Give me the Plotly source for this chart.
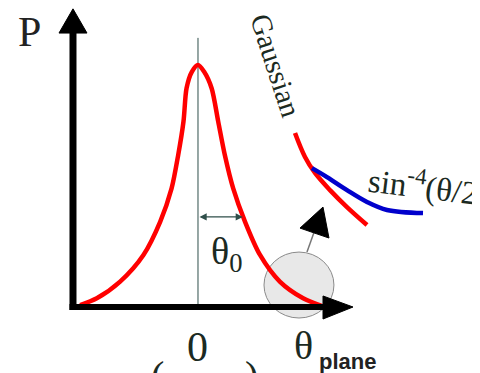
import plotly.graph_objects as go

# ---- data (theta in units of theta0, P normalised to peak) ----
theta_main = [-2.68, -2.30, -1.77, -1.24, -0.86, -0.60, -0.45, -0.33, -0.26, -0.14, 0.0,
              0.14, 0.31, 0.46, 0.61, 0.80, 1.07, 1.41, 1.86, 2.39, 2.81]
p_main = [0.008, 0.036, 0.105, 0.215, 0.352, 0.49, 0.628, 0.766, 0.904, 0.972, 1.0,
          0.972, 0.904, 0.766, 0.628, 0.49, 0.352, 0.215, 0.105, 0.036, 0.005]

theta_gauss = [2.205, 2.432, 2.659, 3.0, 3.386, 3.841]
p_gauss = [0.719, 0.620, 0.554, 0.483, 0.413, 0.339]

theta_sin = [2.59, 2.932, 3.386, 3.841, 4.295, 5.114]
p_sin = [0.574, 0.537, 0.483, 0.434, 0.401, 0.388]

x_range = [-4.318, 6.591]
y_range = [-0.3058, 1.2355]

serif = "Liberation Serif, Times New Roman, serif"
ink = "#1b2a22"

fig = go.Figure()

fig.add_trace(go.Scatter(x=theta_main, y=p_main, mode="lines",
                         line=dict(color="#ff0000", width=4.5, shape="spline", smoothing=0.8),
                         hoverinfo="skip"))
fig.add_trace(go.Scatter(x=theta_gauss, y=p_gauss, mode="lines",
                         line=dict(color="#ff0000", width=4.5, shape="spline"),
                         hoverinfo="skip"))
fig.add_trace(go.Scatter(x=theta_sin, y=p_sin, mode="lines",
                         line=dict(color="#0000cc", width=4.5, shape="spline"),
                         hoverinfo="skip"))

shapes = []
# grey circle (below traces)
shapes.append(dict(type="circle", xref="x", yref="y", x0=1.5, x1=3.09, y0=-0.0455, y1=0.227,
                   fillcolor="#e8e8e8", line=dict(color="#8a8a8a", width=1), layer="below"))
# thin vertical line at 0
shapes.append(dict(type="line", xref="x", yref="y", x0=0, x1=0, y0=0, y1=1.112,
                   line=dict(color="#2f4f4a", width=1), layer="below"))
# y axis
shapes.append(dict(type="line", xref="x", yref="y", x0=-2.841, x1=-2.841, y0=-0.012, y1=1.14,
                   line=dict(color="black", width=7)))
shapes.append(dict(type="path", xref="x", yref="y",
                   path="M -3.159 1.132 L -2.841 1.232 L -2.523 1.132 Z",
                   fillcolor="black", line=dict(color="black", width=1)))
# x axis
shapes.append(dict(type="line", xref="x", yref="y", x0=-2.92, x1=2.9, y0=0, y1=0,
                   line=dict(color="black", width=6)))
shapes.append(dict(type="path", xref="x", yref="y",
                   path="M 2.841 0.0455 L 3.523 0 L 2.841 -0.0496 Z",
                   fillcolor="black", line=dict(color="black", width=1)))
# small arrow from circle
shapes.append(dict(type="line", xref="x", yref="y", x0=2.477, y0=0.227, x1=2.64, y1=0.31,
                   line=dict(color="#777777", width=1.5)))
shapes.append(dict(type="path", xref="x", yref="y",
                   path="M 2.841 0.413 L 2.318 0.326 L 2.977 0.285 Z",
                   fillcolor="black", line=dict(color="black", width=1)))

annotations = [
    # theta0 double arrow
    dict(x=1.02, y=0.372, ax=0.0, ay=0.372, xref="x", yref="y", axref="x", ayref="y",
         text="", showarrow=True, arrowhead=2, startarrowhead=2, arrowside="end+start",
         arrowsize=1.2, startarrowsize=1.2, arrowwidth=1.2, arrowcolor="#2f4f4a"),
    dict(x=-3.84, y=1.136, xref="x", yref="y", text="P", showarrow=False,
         font=dict(family=serif, size=42, color="#222222")),
    dict(x=1.77, y=0.995, xref="x", yref="y", text="Gaussian", showarrow=False, textangle=72,
         font=dict(family=serif, size=29, color=ink)),
    dict(x=3.76, y=0.50, xref="x", yref="y", xanchor="left", text="sin<sup>-4</sup>(θ/2)",
         showarrow=False, textangle=7, font=dict(family=serif, size=33, color=ink)),
    dict(x=0.24, y=0.22, xref="x", yref="y", xanchor="left", text="θ<sub>0</sub>",
         showarrow=False, font=dict(family=serif, size=38, color=ink)),
    dict(x=0.0, y=-0.165, xref="x", yref="y", text="0", showarrow=False,
         font=dict(family=serif, size=42, color=ink)),
    dict(x=2.40, y=-0.16, xref="x", yref="y", text="θ", showarrow=False,
         font=dict(family=serif, size=40, color=ink)),
    dict(x=2.70, y=-0.225, xref="x", yref="y", xanchor="left", text="<b>plane</b>",
         showarrow=False, font=dict(family="Liberation Sans, Arial, sans-serif", size=22, color="#222222")),
    dict(x=-0.93, y=-0.18, xref="x", yref="y", yanchor="top", text="(", showarrow=False,
         font=dict(family=serif, size=40, color=ink)),
    dict(x=1.22, y=-0.18, xref="x", yref="y", yanchor="top", text=")", showarrow=False,
         font=dict(family=serif, size=40, color=ink)),
]

fig.update_layout(
    width=480, height=373,
    margin=dict(l=0, r=0, t=0, b=0),
    paper_bgcolor="white", plot_bgcolor="white",
    showlegend=False,
    xaxis=dict(range=x_range, visible=False, fixedrange=True),
    yaxis=dict(range=y_range, visible=False, fixedrange=True),
    shapes=shapes, annotations=annotations,
)

fig.write_html("out.html")
